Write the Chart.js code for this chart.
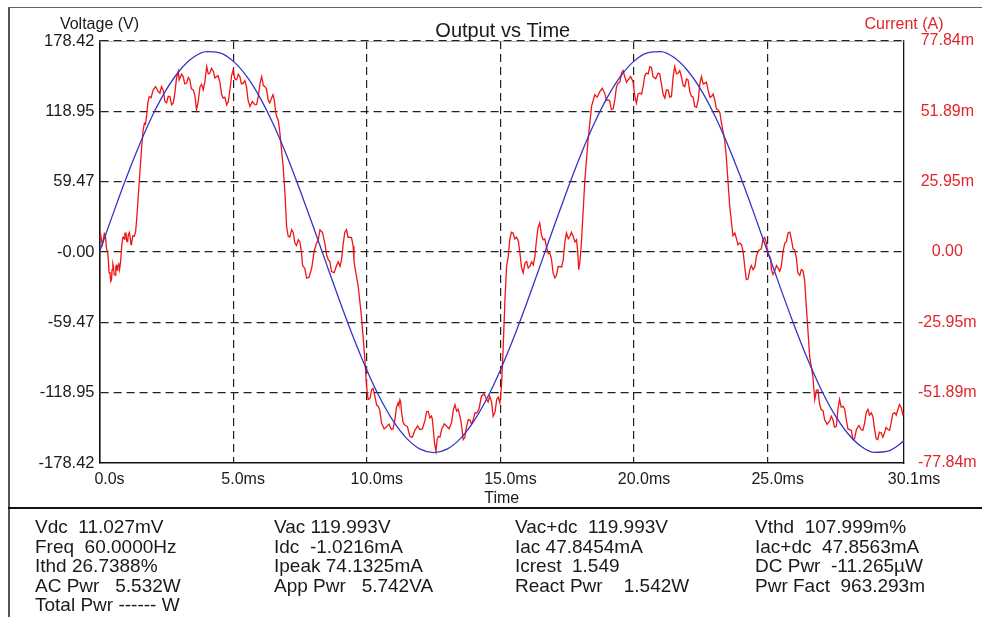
<!DOCTYPE html>
<html>
<head>
<meta charset="utf-8">
<title>Output vs Time</title>
<script src="https://cdn.jsdelivr.net/npm/chart.js@4.4.1/dist/chart.umd.min.js"></script>
<style>
  html, body { margin: 0; padding: 0; background: #fff; }
  #wrap { position: relative; width: 982px; height: 617px; overflow: hidden; font-family: "Liberation Sans", Arial, sans-serif; color: #1a1a1a; }
  #chart { position: absolute; left: 0; top: 0; }
  .frame { position: absolute; left: 8px; top: 7px; width: 974px; height: 610px; border-top: 1px solid #666; border-left: 2px solid #555; box-sizing: border-box; }
  .sep { position: absolute; left: 8px; top: 507px; width: 974px; height: 2px; background: #111; }
  .col { position: absolute; top: 517px; font-size: 19px; line-height: 19.5px; white-space: pre; }
</style>
</head>
<body>
<div id="wrap">
  <canvas id="chart" width="982" height="508"></canvas>
  <div class="frame"></div>
  <div class="sep"></div>
  <div class="col" style="left:35px">Vdc  11.027mV
Freq  60.0000Hz
Ithd 26.7388%
AC Pwr   5.532W
Total Pwr ------ W</div>
  <div class="col" style="left:274px">Vac 119.993V
Idc  -1.0216mA
Ipeak 74.1325mA
App Pwr   5.742VA</div>
  <div class="col" style="left:515px">Vac+dc  119.993V
Iac 47.8454mA
Icrest  1.549
React Pwr    1.542W</div>
  <div class="col" style="left:755px">Vthd  107.999m%
Iac+dc  47.8563mA
DC Pwr  -11.265µW
Pwr Fact  963.293m</div>
</div>

<script>
// axis ticks and labels as printed on the plot
const timeTicks = [0, 5, 10, 15, 20, 25, 30.1];
const timeLabels = ['0.0s', '5.0ms', '10.0ms', '15.0ms', '20.0ms', '25.0ms', '30.1ms'];
const voltTicks = [-178.42, -118.95, -59.47, 0, 59.47, 118.95, 178.42];
const voltLabels = ['-178.42', '-118.95', '-59.47', '-0.00', '59.47', '118.95', '178.42'];
const currTicks = [-77.84, -51.89, -25.95, 0, 25.95, 51.89, 77.84];
const currLabels = ['-77.84m', '-51.89m', '-25.95m', '0.00', '25.95m', '51.89m', '77.84m'];

// voltage trace (V) read every 0.5 ms
const vTime = [0, 0.5, 1, 1.5, 2, 2.5, 3, 3.5, 4, 4.5, 5, 5.5, 6, 6.5, 7, 7.5, 8, 8.5, 9, 9.5,
  10, 10.5, 11, 11.5, 12, 12.5, 13, 13.5, 14, 14.5, 15, 15.5, 16, 16.5, 17, 17.5, 18, 18.5, 19, 19.5,
  20, 20.5, 21, 21.5, 22, 22.5, 23, 23.5, 24, 24.5, 25, 25.5, 26, 26.5, 27, 27.5, 28, 28.5, 29, 29.5,
  30, 30.1];
const voltage = [0, 31.8, 62.5, 90.9, 116.2, 137.3, 153.5, 164.4, 169.4, 168.4,
  161.4, 148.7, 130.8, 108.2, 81.8, 52.4, 21.3, -10.7, -42.2, -72.3,
  -99.7, -123.7, -143.3, -157.8, -166.7, -169.7, -166.7, -157.8, -143.3, -123.7,
  -99.7, -72.3, -42.2, -10.7, 21.3, 52.4, 81.8, 108.2, 130.8, 148.7,
  161.4, 168.4, 169.4, 164.4, 153.5, 137.3, 116.2, 90.9, 62.5, 31.8,
  0, -31.8, -62.5, -90.9, -116.2, -137.3, -153.5, -164.4, -169.4, -168.4,
  -161.4, -159.3];

// current trace (mA) (lines of the two arrays match)
const iTime = [
  0, 0.04, 0.08, 0.11, 0.14, 0.18, 0.22, 0.26, 0.31, 0.33,
  0.36, 0.39, 0.42, 0.45, 0.47, 0.50, 0.52, 0.55, 0.58, 0.61,
  0.63, 0.66, 0.68, 0.72, 0.75, 0.79, 0.83, 0.87, 0.90, 0.93,
  0.95, 0.99, 1.02, 1.05, 1.08, 1.12, 1.15, 1.18, 1.20, 1.25,
  1.30, 1.35, 1.39, 1.45, 1.51, 1.58, 1.63, 1.68, 1.72, 1.76,
  1.81, 1.86, 1.93, 2.01, 2.10, 2.20, 2.26, 2.32, 2.38, 2.45,
  2.51, 2.57, 2.63, 2.70, 2.76, 2.82, 2.88, 2.95, 2.98, 3.01,
  3.07, 3.13, 3.19, 3.26, 3.32, 3.38, 3.44, 3.51, 3.57, 3.63,
  3.69, 3.76, 3.82, 3.88, 3.94, 4.01, 4.07, 4.13, 4.19, 4.26,
  4.32, 4.38, 4.44, 4.51, 4.57, 4.63, 4.69, 4.76, 4.82, 4.88,
  4.94, 5.00, 5.06, 5.13, 5.19, 5.25, 5.31, 5.38, 5.44, 5.50,
  5.56, 5.63, 5.72, 5.82, 5.88, 5.94, 6.01, 6.07, 6.13, 6.19,
  6.25, 6.31, 6.37, 6.44, 6.49, 6.54, 6.59, 6.63, 6.69, 6.75,
  6.87, 6.94, 7.00, 7.06, 7.12, 7.19, 7.25, 7.31, 7.37, 7.44,
  7.50, 7.56, 7.59, 7.62, 7.68, 7.75, 7.84, 7.94, 8.03, 8.12,
  8.18, 8.25, 8.34, 8.43, 8.50, 8.56, 8.62, 8.68, 8.78, 8.87,
  8.93, 9.00, 9.06, 9.12, 9.18, 9.24, 9.30, 9.37, 9.43, 9.49,
  9.52, 9.55, 9.68, 9.80, 9.93, 9.99, 10.05, 10.12, 10.18, 10.24,
  10.30, 10.37, 10.43, 10.49, 10.55, 10.65, 10.74, 10.83, 10.92, 10.98,
  11.05, 11.11, 11.17, 11.20, 11.24, 11.27, 11.30, 11.36, 11.42, 11.52,
  11.61, 11.70, 11.80, 11.90, 11.99, 12.08, 12.18, 12.24, 12.30, 12.36,
  12.42, 12.45, 12.49, 12.54, 12.59, 12.63, 12.68, 12.74, 12.80, 12.90,
  12.99, 13.08, 13.17, 13.24, 13.30, 13.36, 13.42, 13.52, 13.61, 13.67,
  13.73, 13.80, 13.86, 13.92, 13.98, 14.05, 14.11, 14.20, 14.29, 14.39,
  14.48, 14.54, 14.60, 14.67, 14.73, 14.80, 14.86, 14.92, 14.98, 15.04,
  15.10, 15.17, 15.23, 15.29, 15.35, 15.41, 15.47, 15.54, 15.60, 15.67,
  15.73, 15.79, 15.85, 15.92, 15.98, 16.04, 16.10, 16.17, 16.23, 16.29,
  16.35, 16.41, 16.47, 16.54, 16.60, 16.66, 16.72, 16.79, 16.85, 16.91,
  16.97, 17.04, 17.10, 17.16, 17.22, 17.29, 17.35, 17.41, 17.47, 17.54,
  17.60, 17.66, 17.72, 17.79, 17.85, 17.89, 17.93, 17.98, 18.03, 18.16,
  18.28, 18.41, 18.53, 18.62, 18.72, 18.81, 18.90, 18.97, 19.03, 19.09,
  19.15, 19.22, 19.28, 19.34, 19.40, 19.47, 19.53, 19.59, 19.65, 19.72,
  19.78, 19.87, 19.96, 20.03, 20.09, 20.15, 20.21, 20.28, 20.34, 20.40,
  20.46, 20.53, 20.59, 20.65, 20.71, 20.81, 20.90, 20.96, 21.02, 21.09,
  21.15, 21.21, 21.27, 21.34, 21.40, 21.46, 21.52, 21.59, 21.65, 21.71,
  21.77, 21.84, 21.90, 21.96, 22.02, 22.09, 22.15, 22.21, 22.27, 22.34,
  22.40, 22.46, 22.52, 22.59, 22.65, 22.71, 22.77, 22.84, 22.90, 22.96,
  23.02, 23.08, 23.14, 23.21, 23.27, 23.39, 23.45, 23.58, 23.70, 23.77,
  23.83, 23.89, 23.95, 24.02, 24.08, 24.14, 24.20, 24.27, 24.33, 24.39,
  24.45, 24.52, 24.58, 24.64, 24.70, 24.76, 24.82, 24.89, 24.95, 25.01,
  25.07, 25.11, 25.14, 25.20, 25.26, 25.33, 25.39, 25.45, 25.51, 25.58,
  25.64, 25.70, 25.76, 25.83, 25.89, 25.95, 26.01, 26.07, 26.13, 26.20,
  26.26, 26.32, 26.38, 26.47, 26.57, 26.69, 26.76, 26.82, 26.88, 26.94,
  27.00, 27.07, 27.13, 27.22, 27.32, 27.38, 27.44, 27.50, 27.57, 27.63,
  27.69, 27.75, 27.82, 27.88, 27.94, 28.00, 28.07, 28.13, 28.19, 28.25,
  28.32, 28.41, 28.50, 28.56, 28.63, 28.69, 28.75, 28.81, 28.88, 28.94,
  29.00, 29.06, 29.12, 29.18, 29.25, 29.31, 29.37, 29.43, 29.50, 29.56,
  29.62, 29.68, 29.75, 29.81, 29.87, 29.93, 30.00, 30.05, 30.10];
const current = [
  5.2, 6.6, 4.0, 2.8, 4.5, 6.8, 6.0, 1.4, -0.4, -3.0,
  -7.7, -7.4, -10.8, -10.2, -6.5, -4.4, -5.3, -8.4, -8.5, -5.3,
  -5.0, -6.7, -5.3, -4.4, -6.5, -3.7, 2.1, 5.3, 5.5, 4.8,
  7.0, 7.0, 4.0, 3.8, 6.5, 7.2, 5.0, 2.7, 3.3, 6.0,
  5.8, 7.4, 11.9, 20.5, 29.1, 38.9, 44.8, 47.5, 47.2, 50.0,
  55.2, 57.3, 56.9, 59.8, 61.0, 59.2, 58.6, 61.0, 59.8, 55.5,
  55.0, 57.4, 57.4, 54.3, 55.0, 58.6, 64.1, 66.6, 63.5, 63.5,
  65.6, 64.7, 62.0, 62.3, 64.4, 63.5, 60.2, 59.8, 57.7, 52.5,
  55.3, 61.0, 61.9, 59.8, 62.6, 68.4, 65.7, 66.0, 67.8, 66.6,
  64.2, 64.7, 65.0, 62.3, 58.0, 56.8, 57.1, 54.3, 55.5, 59.8,
  65.0, 67.2, 63.9, 63.5, 65.6, 64.7, 62.0, 62.3, 63.2, 61.0,
  55.9, 53.7, 55.5, 54.3, 54.4, 57.4, 62.5, 64.7, 61.4, 61.0,
  60.1, 56.1, 55.0, 56.8, 58.0, 56.1, 51.6, 50.0, 48.5, 43.9,
  31.6, 21.7, 9.4, 5.8, 5.5, 8.2, 7.2, 3.3, 2.4, 4.5,
  3.6, -0.4, -4.4, -5.3, -6.0, -9.6, -9.3, -5.9, 0.2, 3.3,
  4.3, 8.2, 7.3, 3.3, -1.2, -2.8, -3.5, -7.2, -7.6, -5.0,
  -3.6, -5.3, -2.5, 3.3, 7.3, 8.2, 5.4, 5.5, 5.3, 2.1,
  -3.1, -5.3, -12.7, -23.7, -39.7, -49.5, -54.4, -54.1, -50.8, -50.4,
  -53.0, -56.5, -56.9, -58.5, -63.0, -65.3, -64.5, -63.5, -65.5, -65.3,
  -62.0, -57.4, -55.7, -56.6, -54.5, -55.3, -59.0, -62.9, -63.8, -64.4,
  -68.0, -68.4, -65.8, -64.2, -65.5, -65.3, -62.0, -58.9, -58.8, -61.2,
  -60.5, -61.5, -65.5, -71.0, -73.5, -69.3, -68.0, -68.3, -65.5, -63.4,
  -64.3, -65.2, -63.0, -58.2, -56.3, -58.7, -58.0, -62.1, -69.2, -68.4,
  -64.5, -61.8, -62.0, -63.5, -62.0, -59.3, -59.5, -57.9, -53.2, -52.3,
  -54.4, -55.3, -53.2, -55.4, -60.6, -59.0, -54.4, -53.6, -55.7, -49.5,
  -36.0, -17.6, -5.3, -1.9, 4.5, 7.3, 7.0, 4.8, 5.5, 4.1,
  -0.4, -5.6, -7.7, -4.1, -3.5, -5.9, -5.3, -3.6, -4.8, -1.6,
  4.5, 9.1, 10.7, 6.1, 4.5, 4.8, 2.1, -0.6, -0.4, -2.6,
  -7.7, -9.6, -8.5, -5.4, -5.3, -5.6, -2.8, 3.6, 7.0, 4.9,
  5.8, 7.3, 5.8, 3.7, 4.5, 0.5, -6.5, -3.1, 3.3, 26.6,
  41.4, 53.7, 58.0, 57.1, 59.2, 60.4, 58.6, 55.9, 56.1, 55.8,
  52.5, 52.8, 56.1, 60.7, 62.3, 62.7, 66.0, 66.9, 64.7, 62.6,
  63.5, 64.7, 62.9, 57.4, 54.9, 58.3, 58.6, 58.3, 61.0, 65.0,
  66.0, 65.7, 68.4, 68.1, 64.7, 63.9, 66.0, 65.7, 62.3, 58.1,
  56.8, 59.8, 59.8, 57.1, 57.4, 64.4, 68.4, 65.7, 66.0, 66.9,
  64.7, 61.4, 61.0, 63.8, 63.5, 59.0, 57.4, 57.1, 53.7, 53.4,
  56.1, 61.9, 64.7, 62.0, 62.3, 62.6, 59.8, 57.1, 57.4, 58.3,
  56.1, 52.8, 52.5, 51.5, 47.5, 41.4, 35.3, 16.8, 6.0, 7.0,
  5.0, 2.7, 3.3, 2.7, 0.2, -5.3, -10.2, -9.9, -6.5, -5.0,
  -6.5, -5.5, -1.5, 0.2, 0.8, 1.2, 4.5, 5.4, 3.3, -0.6,
  -1.5, -2.5, -6.5, -8.3, -7.0, -5.0, -5.9, -7.1, -5.3, 0.5,
  3.3, 3.7, 7.0, 7.3, 4.5, 1.2, 0.8, -1.9, -7.7, -8.6,
  -6.5, -6.9, -10.2, -23.7, -38.5, -45.9, -54.4, -51.1, -50.8, -56.0,
  -58.1, -58.5, -61.8, -63.6, -62.4, -60.6, -61.8, -64.6, -64.3, -57.9,
  -54.4, -57.2, -56.9, -57.9, -61.8, -65.2, -65.5, -65.9, -69.2, -68.9,
  -65.5, -64.0, -65.5, -65.8, -63.0, -59.1, -58.1, -60.2, -59.3, -60.9,
  -65.5, -68.9, -69.2, -66.5, -66.8, -68.3, -66.8, -64.7, -65.5, -65.8,
  -63.0, -59.7, -59.3, -60.2, -58.1, -56.3, -57.5, -59.9, -59.3];

const FONT = '"Liberation Sans", Arial, sans-serif';
const INK = '#1a1a1a';
const RED_TEXT = '#e2252b';

// title, axis captions and the thin top edge of the plot box
const headerText = {
    id: 'headerText',
    beforeDatasetsDraw(chart) {
        const { ctx, chartArea: a } = chart;
        ctx.save();
        ctx.strokeStyle = '#999';
        ctx.lineWidth = 0.8;
        ctx.beginPath();
        ctx.moveTo(a.left, a.top + 0.5);
        ctx.lineTo(a.right, a.top + 0.5);
        ctx.stroke();
        ctx.restore();
    },
    afterDraw(chart) {
        const { ctx, chartArea: a } = chart;
        ctx.save();
        ctx.textAlign = 'center';
        ctx.textBaseline = 'alphabetic';
        ctx.fillStyle = INK;
        ctx.font = '20px ' + FONT;
        ctx.fillText('Output vs Time', (a.left + a.right) / 2 + 1, 37);
        ctx.font = '16px ' + FONT;
        ctx.fillText('Voltage (V)', a.left, 29);
        ctx.fillStyle = RED_TEXT;
        ctx.fillText('Current (A)', a.right, 29);
        ctx.restore();
    }
};

function gridColor(ctx, last) {
    return (ctx.index === 0 || ctx.index === last) ? 'rgba(0,0,0,0)' : '#222';
}

function initChart() {
    new Chart(document.getElementById('chart'), {
        type: 'line',
        data: {
            datasets: [
                {
                    label: 'Voltage',
                    yAxisID: 'y',
                    data: vTime.map((t, i) => ({ x: t, y: voltage[i] })),
                    borderColor: '#3535c8',
                    borderWidth: 1.3,
                    pointRadius: 0,
                    cubicInterpolationMode: 'monotone'
                },
                {
                    label: 'Current',
                    yAxisID: 'y2',
                    data: iTime.map((t, i) => ({ x: t, y: current[i] })),
                    borderColor: '#f01414',
                    borderWidth: 1.3,
                    pointRadius: 0,
                    tension: 0
                }
            ]
        },
        options: {
            responsive: false,
            animation: false,
            layout: { padding: { top: 41, left: 0, right: 0, bottom: 0 } },
            plugins: { legend: { display: false }, tooltip: { enabled: false } },
            scales: {
                x: {
                    type: 'linear',
                    min: 0,
                    max: 30.1,
                    afterBuildTicks: s => { s.ticks = timeTicks.map(v => ({ value: v })); },
                    afterFit: s => { s.height = 45; },
                    ticks: {
                        callback: (v, i) => timeLabels[i],
                        color: INK,
                        font: { family: FONT, size: 16 },
                        padding: 7,
                        labelOffset: 10,
                        maxRotation: 0,
                        autoSkip: false
                    },
                    grid: { color: c => gridColor(c, timeTicks.length - 1), lineWidth: 1.2, drawTicks: false },
                    border: { color: '#111', width: 1.4, dash: [8, 5] },
                    title: { display: true, text: 'Time', color: INK, font: { family: FONT, size: 16 }, padding: 0 }
                },
                y: {
                    position: 'left',
                    min: -178.42,
                    max: 178.42,
                    afterBuildTicks: s => { s.ticks = voltTicks.map(v => ({ value: v })); },
                    afterFit: s => { s.width = 99.5; },
                    ticks: { callback: (v, i) => voltLabels[i], color: INK, font: { family: FONT, size: 16.5 }, padding: 5 },
                    grid: { color: c => c.index === 0 ? 'rgba(0,0,0,0)' : '#222', lineWidth: 1.2, drawTicks: false },
                    border: { color: '#111', width: 1.6, dash: [8, 5] }
                },
                y2: {
                    position: 'right',
                    min: -77.84,
                    max: 77.84,
                    afterBuildTicks: s => { s.ticks = currTicks.map(v => ({ value: v })); },
                    afterFit: s => { s.width = 78; },
                    ticks: {
                        callback: (v, i) => currLabels[i],
                        color: RED_TEXT,
                        font: { family: FONT, size: 16 },
                        padding: 14,
                        crossAlign: 'center'
                    },
                    grid: { display: false, drawTicks: false },
                    border: { color: '#111', width: 1.3 }
                }
            }
        },
        plugins: [headerText]
    });
}

document.addEventListener('DOMContentLoaded', initChart);
</script>
</body>
</html>
